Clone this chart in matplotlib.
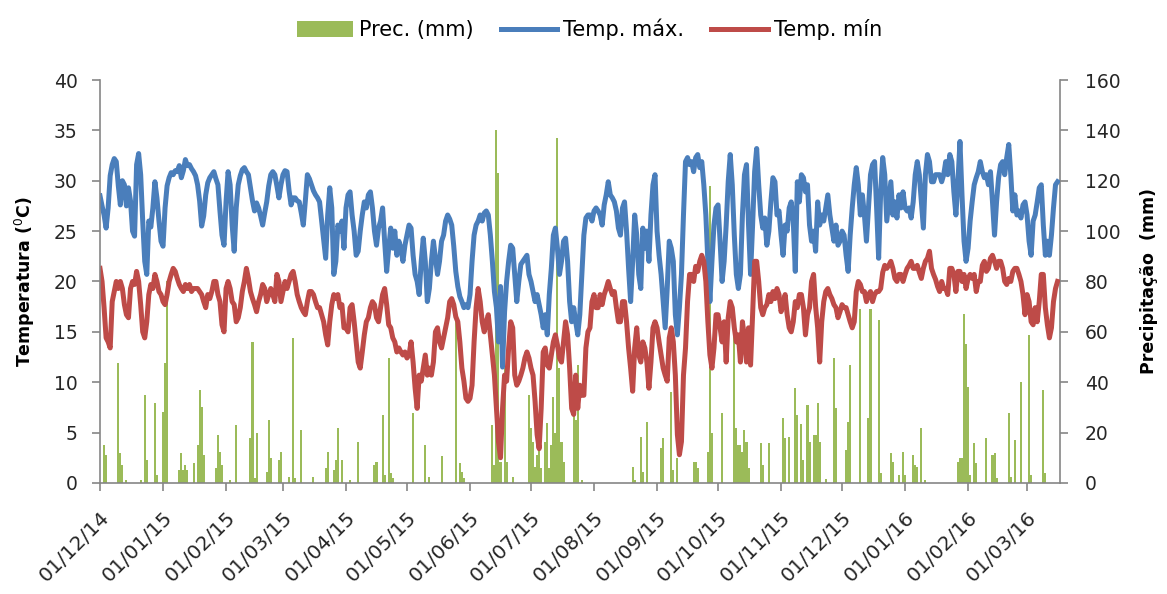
import matplotlib
matplotlib.use("Agg")
import matplotlib.pyplot as plt
import matplotlib.dates as mdates
from matplotlib.patches import Patch
from matplotlib.lines import Line2D
import pandas as pd

start = pd.Timestamp("2014-12-01")

# daily maximum temperature (C), from 01/12/14
tmax = [
    28.5, 27.5, 26.6, 25.3, 27.3, 30.5, 31.6, 32.2, 31.9, 29.5,
    27.6, 30, 29.6, 27.5, 29.3, 28, 25, 24.5, 31.6, 32.7,
    30.6, 26, 22, 20.7, 26, 25.4, 27.3, 29.9, 28.3, 26,
    24, 23.5, 27.3, 29.5, 30.3, 30.8, 30.6, 31, 30.9, 31.5,
    30.3, 31, 32.1, 31.5, 31.6, 31.2, 30.9, 30.5, 29.6, 28,
    25.5, 26.5, 28.6, 29.8, 30.3, 30.6, 30.9, 30.2, 29.6, 27,
    24.6, 23.6, 27.9, 30.9, 29.6, 25.6, 23, 27.3, 29.6, 30.5,
    31.1, 31.3, 30.9, 30.6, 29.3, 28, 27, 27.8, 27.3, 26.5,
    25.6, 26.8, 27.9, 29.5, 30.6, 30.9, 30.6, 29.5, 28.3, 29.6,
    30.6, 31, 30.9, 29, 27.6, 28.3, 28.3, 28, 27.9, 26.8,
    25.6, 28, 30.6, 30.2, 29.6, 29, 28.6, 28.3, 27.9, 26,
    24, 22.3, 26.6, 29.3, 27.3, 20.7, 22, 25.6, 25, 26,
    23.3, 27.3, 28.6, 28.9, 26.6, 25, 22.6, 23, 25, 26.6,
    27.9, 27.3, 28.6, 28.9, 27.3, 25, 23.6, 25.3, 26, 27.3,
    24, 21, 23.3, 25.3, 23.3, 25, 22.6, 24, 23.3, 22,
    23.6, 24.6, 25.6, 25.3, 22.6, 20.7, 20, 18.7, 22, 24.3,
    22, 18, 19.3, 22, 24, 22.3, 20.7, 22, 24, 24.6,
    26, 26.6, 26.2, 25.6, 23.5, 21, 19.5, 18.5, 18, 17.4,
    17.7, 17.4, 18.7, 22, 24.6, 25.6, 26, 26.6, 26, 26.8,
    27, 26.6, 24.6, 22, 19, 17.4, 14, 19.5, 11.5, 17,
    20, 22, 23.6, 23.3, 20.7, 18, 20, 21.7, 22, 22.3,
    22.6, 20.7, 20, 19, 18, 18.7, 17.7, 16.7, 15.4, 16.7,
    14.7, 18.7, 21.3, 24.6, 25.3, 23.3, 20.7, 22, 24, 24.3,
    22, 18, 16, 17.4, 16, 14.7, 16.7, 20.7, 24.6, 26.3,
    26.6, 26.6, 26, 27, 27.3, 27, 26.6, 25.6, 27.6, 28.6,
    29.9, 28.6, 28.3, 27.9, 27, 25.3, 24.6, 27.3, 27.9, 25,
    21.3, 18, 22, 26.6, 24.6, 20.7, 19.3, 25.3, 23.3, 25,
    22, 26.6, 29.6, 30.6, 25, 22.6, 20.7, 18, 15.4, 19.3,
    24, 23.3, 22, 16.7, 14.7, 17.4, 20.7, 26.6, 31.9, 32.3,
    31.6, 31.9, 30.9, 32.3, 32.6, 31.3, 31.9, 29.6, 26.6, 22,
    18, 22, 25.6, 27.3, 27.6, 24, 20, 22, 25.6, 29.9,
    32.6, 29.6, 24.6, 20.7, 19.3, 20.7, 26.6, 30.6, 31.6, 25.6,
    20.7, 25.6, 30.9, 33.2, 29.6, 26.6, 25.3, 26.3, 23.6, 25,
    27.9, 30.3, 29.9, 26.6, 27, 24.6, 22.6, 25.6, 25, 27.3,
    27.9, 26, 21, 29.9, 27.9, 30.6, 30.3, 28.9, 29.6, 25.6,
    24, 25, 23, 27.9, 25.6, 26.6, 26, 27.3, 28.6, 26.6,
    25.3, 24, 25.6, 23.6, 24, 25, 24.6, 22.6, 21, 24.6,
    27.3, 29.6, 31.3, 29.6, 26.6, 28.6, 26.6, 24, 27.3, 30.6,
    31.6, 31.9, 27.3, 22.3, 28.9, 32.3, 30.6, 26, 27.9, 29.9,
    26.6, 27.9, 26.3, 28.6, 27.3, 28.9, 27.3, 27, 27.3, 26.3,
    27.9, 30.6, 31.9, 30.6, 27.9, 25.3, 30.6, 32.6, 31.9, 29.9,
    29.9, 30.6, 30.6, 30.6, 29.9, 30.6, 31.9, 30.6, 32.6, 31.9,
    28.9, 26.6, 29.9, 33.9, 28.6, 24, 22, 23.3, 26, 27.9,
    29.6, 30.3, 30.9, 31.9, 30.9, 30.3, 30.6, 29.6, 30.9, 27.9,
    24.6, 27.9, 30.3, 31.6, 31.9, 30.6, 32.3, 33.6, 30.6, 27,
    28.6, 26.6, 27, 26.3, 27.6, 27.9, 26.6, 24, 22.6, 26,
    26.6, 27.9, 29.3, 29.6, 25.6, 22.6, 24, 22.6, 24.6, 27.3,
    29.6, 29.9,
]

# daily minimum temperature (C), from 01/12/14
tmin = [
    21.3, 20, 17.4, 14.4, 14, 13.4, 18, 19, 20, 19.3,
    20, 19.3, 17.7, 16.7, 16.4, 19.3, 20, 19.7, 21, 20,
    17.7, 15, 14.4, 16, 18.7, 19.7, 19.3, 20.7, 20, 19,
    18.7, 18, 17.7, 18.7, 20, 20.7, 21.3, 21, 20.3, 19.7,
    19.3, 19, 19.7, 19.3, 19.7, 19, 19.3, 19.3, 19.3, 19,
    18.7, 18, 17.4, 18.7, 18.3, 19, 20, 20, 18.7, 18,
    15.7, 15, 19.3, 20, 19.3, 18, 17.7, 16, 16.4, 17.4,
    19, 20, 21.3, 20.3, 19, 18.3, 17.7, 17, 18, 18.7,
    19.7, 19.3, 18, 18.7, 19.3, 18.7, 18, 20.7, 20, 18,
    19, 20, 19.3, 20, 20.7, 21, 20, 18.7, 18, 17.4,
    17, 16.7, 18, 19, 19, 18.7, 18, 17.4, 17.4, 16.7,
    16, 14.7, 13.7, 16, 17.7, 18.7, 18.3, 18.7, 17.4, 17.7,
    15.4, 15.4, 15, 17.4, 17.7, 16, 14, 12, 11.4, 13,
    14.7, 16, 16.4, 17.4, 18, 17.7, 16.4, 16, 17.4, 18.7,
    19.3, 17.7, 15.7, 15.4, 14.4, 14, 13, 13.4, 13, 12.7,
    13, 12.4, 12.7, 14, 12, 9.4, 7.4, 10.7, 10.1, 11.4,
    12.7, 10.7, 11.4, 10.7, 12, 15, 15.4, 14, 13.4, 14.4,
    15.4, 16.4, 18, 18.3, 17.7, 16.5, 16, 14, 11.4, 10.1,
    8.4, 8.1, 8.4, 9.7, 14, 17.4, 19.3, 18, 16, 15,
    16, 16.7, 14.7, 12.7, 10.7, 7.4, 4.1, 2.5, 7.4, 10.7,
    10.1, 13.4, 16, 15.4, 10.7, 9.7, 10.1, 10.7, 11.4, 12.4,
    13, 12.4, 11.4, 10.7, 8.1, 4.8, 3.4, 7.4, 13, 13.4,
    11.7, 11.4, 12.7, 14, 14.7, 13.7, 12.4, 12, 14, 16,
    14.7, 11.4, 7.4, 6.8, 10.7, 7.4, 9.7, 8.7, 8.7, 13.4,
    15, 15.4, 18, 18.7, 17.4, 17.4, 18.7, 17.7, 18.7, 19.3,
    20, 19.3, 18.7, 19, 17.4, 16, 16, 18, 18, 16,
    13.4, 11.4, 9.1, 13.4, 15.4, 12.7, 12, 14, 13.4, 12,
    9.4, 12, 15.4, 16, 15.4, 14, 12.7, 11.4, 10.7, 10.1,
    14.4, 15.4, 14, 10.7, 4.8, 2.8, 4.1, 10.7, 13.4, 18,
    20.7, 20.7, 20, 21.5, 21, 22, 22.6, 22, 20, 16,
    12.7, 11.4, 13.4, 16.7, 16.7, 15.4, 14, 16, 12, 16.4,
    18, 17.4, 15.4, 14, 14.7, 12, 16, 14.4, 12, 15.4,
    11.7, 16.7, 22, 22, 20, 17.4, 16.7, 17.4, 17.7, 18.7,
    18, 19, 18.3, 19.3, 18.7, 17, 17.7, 18.7, 16.7, 15.4,
    15, 16, 18, 17.4, 18.7, 18.7, 17.4, 14.7, 16.7, 17.4,
    20, 20.7, 17.5, 15.4, 12, 16, 18, 19, 19.3, 18.7,
    18.3, 17.7, 17.4, 16.4, 17, 17.7, 17.4, 17.4, 16.7, 16,
    15.4, 16, 19, 20, 19.7, 19, 19, 18, 18.7, 19,
    18, 18.7, 19, 19, 19.3, 20.9, 21.6, 21.3, 21.6, 22,
    21.3, 20.3, 20, 20.7, 20.7, 20, 20.7, 21.3, 21.6, 22,
    21.3, 21.3, 21.6, 20.9, 20.3, 21.3, 22, 22.3, 23, 21.3,
    20.7, 20.2, 19.5, 19, 20, 19.3, 19.3, 18.7, 21.3, 21.3,
    20.7, 19, 21, 21, 20, 20.7, 19.3, 20.3, 20.7, 20.3,
    20.7, 19, 20, 20, 21.6, 22, 21, 21.3, 22.3, 22.6,
    22, 21.3, 22, 22, 21.3, 20, 19.7, 20.3, 20, 21,
    21.3, 21.3, 20.7, 20, 18.7, 16.7, 18.7, 18, 16, 15.7,
    17.4, 16, 18, 20.7, 20.7, 17.4, 15.7, 14.4, 15.4, 18,
    19.3, 20,
]

# rainy days (days after 01/12/14) and rainfall (mm)
rain_day = [
    2, 3, 9, 10, 11, 13, 20, 22, 23, 27, 28, 31, 32, 33, 39, 40, 41, 42, 43, 46,
    48, 49, 50, 51, 57, 58, 59, 60, 64, 67, 74, 75, 76, 77, 82, 83, 84, 88, 89, 93,
    95, 96, 99, 105, 111, 112, 115, 116, 117, 119, 123, 127, 135, 136, 139, 140, 142, 143, 144, 154,
    160, 162, 168, 175, 177, 178, 179, 193, 194, 195, 196, 197, 199, 200, 203, 211, 212, 213, 214, 215,
    216, 217, 219, 220, 221, 222, 223, 224, 225, 226, 227, 228, 233, 234, 235, 237, 262, 263, 266, 267,
    269, 276, 277, 281, 282, 284, 292, 293, 294, 299, 300, 301, 306, 312, 313, 314, 315, 316, 317, 318,
    319, 325, 326, 329, 336, 337, 339, 342, 343, 345, 346, 348, 349, 351, 352, 353, 354, 357, 361, 362,
    367, 368, 369, 374, 378, 379, 383, 384, 389, 390, 393, 395, 396, 400, 401, 402, 404, 406, 422, 423,
    424, 425, 426, 427, 428, 430, 431, 436, 439, 440, 441, 447, 448, 450, 453, 457, 458, 464, 465,
]
rain_mm = [
    15, 11, 47.5, 12, 7, 1, 1, 35, 9, 31.6, 3, 28, 47.5, 80, 5, 11.8, 5, 7, 5, 8,
    15, 37, 30, 11, 6, 19, 12.4, 7, 1, 23, 18, 56, 2, 20, 4.5, 25, 9.8, 9, 12.4, 2.5,
    57.4, 2, 21, 2.5, 6, 12.4, 5, 9, 22, 9, 1, 16.4, 7, 8.5, 27, 3, 49.7, 4, 2, 27.6,
    15, 2.5, 10.7, 68, 8, 4.5, 2, 23, 7, 140, 123, 8.5, 45.5, 8.5, 2.5, 35, 21.7, 16.4, 6.5, 11,
    24.3, 6, 16.4, 23.7, 6, 15, 34, 20, 137, 45.5, 16.4, 8.5, 29, 25, 47, 1, 6.5, 1, 18.4, 4.5,
    24.3, 13.8, 17.7, 36, 5, 9.8, 8.5, 8.5, 6, 12.4, 118, 20, 27.6, 60, 22, 15, 15, 12.4, 21, 16.4,
    6, 15.7, 7, 15.7, 25.6, 17.7, 18.4, 37.6, 27, 23.3, 9, 31, 16.4, 19, 19, 31.6, 16.4, 1.5, 49.7, 29.6,
    13, 24.3, 47, 69, 25.6, 69, 64.7, 4, 11.8, 8.5, 3, 12.4, 3, 11, 7, 6.5, 21.7, 1, 8.5, 9.8,
    9.8, 67, 55, 38, 3, 15.7, 7.8, 17.7, 11, 11.8, 2, 27.6, 2.5, 17, 40, 58.7, 3, 37, 4,
]

temp_ticks = [0, 5, 10, 15, 20, 25, 30, 35, 40]
rain_ticks = [0, 20, 40, 60, 80, 100, 120, 140, 160]

c_max = "#4a7ebb"
c_min = "#be4b48"
c_rain = "#9bbb59"
c_axis = "#868686"

dates_max = pd.date_range(start, periods=len(tmax), freq="D")
dates_min = pd.date_range(start, periods=len(tmin), freq="D")
rain_dates = [start + pd.Timedelta(days=d) for d in rain_day]

fig, ax = plt.subplots(figsize=(11.67, 5.94), dpi=100)
fig.subplots_adjust(left=0.0857, right=0.9083, bottom=0.187, top=0.8653)
ax2 = ax.twinx()

# bars behind the lines
ax2.bar(rain_dates, rain_mm, width=1.0, color=c_rain, linewidth=0)
ax.set_zorder(ax2.get_zorder() + 1)
ax.patch.set_visible(False)

ax.plot(dates_max, tmax, color=c_max, lw=3.6, solid_joinstyle="round")
ax.plot(dates_min, tmin, color=c_min, lw=3.6, solid_joinstyle="round")

ax.set_ylim(0, 40)
ax.set_yticks(temp_ticks)
ax2.set_ylim(0, 160)
ax2.set_yticks(rain_ticks)

ax.set_xlim(start, start + pd.Timedelta(days=472.2))
ax.xaxis.set_major_locator(mdates.MonthLocator(bymonthday=1))
ax.xaxis.set_major_formatter(mdates.DateFormatter("%d/%m/%y"))
plt.setp(ax.get_xticklabels(), rotation=45, ha="right", rotation_mode="anchor")

for a in (ax, ax2):
    for side in ("top", "left", "right", "bottom"):
        a.spines[side].set_visible(False)
    a.tick_params(colors=c_axis, labelcolor="#262626", labelsize=13.5,
                  direction="out", length=6, width=1.2)
ax.tick_params(axis="y", pad=10)
ax.tick_params(axis="x", pad=12, labelsize=14.5)
ax2.tick_params(axis="y", pad=12)
ax.spines["left"].set_visible(True)
ax.spines["left"].set_color(c_axis)
ax.spines["bottom"].set_visible(True)
ax.spines["bottom"].set_color(c_axis)
ax2.spines["right"].set_visible(True)
ax2.spines["right"].set_color(c_axis)
for s in (ax.spines["left"], ax.spines["bottom"], ax2.spines["right"]):
    s.set_linewidth(1.2)

ax.set_ylabel("Temperatura ($^0$C)", fontsize=12.5, fontweight="bold", labelpad=12)
ax2.set_ylabel("Precipitação  (mm)", fontsize=12.5, fontweight="bold", labelpad=14)

handles = [
    Patch(facecolor=c_rain, edgecolor="none"),
    Line2D([], [], color=c_max, lw=3.6),
    Line2D([], [], color=c_min, lw=3.6),
]
labels = ["Prec. (mm)", "Temp. máx.", "Temp. mín"]
fig.legend(handles, labels, loc="upper center", bbox_to_anchor=(0.505, 1.0), ncol=3,
           frameon=False, fontsize=15, handlelength=2.7, handleheight=0.8,
           columnspacing=1.3, handletextpad=0.3)

fig.savefig("out.png", dpi=100)
